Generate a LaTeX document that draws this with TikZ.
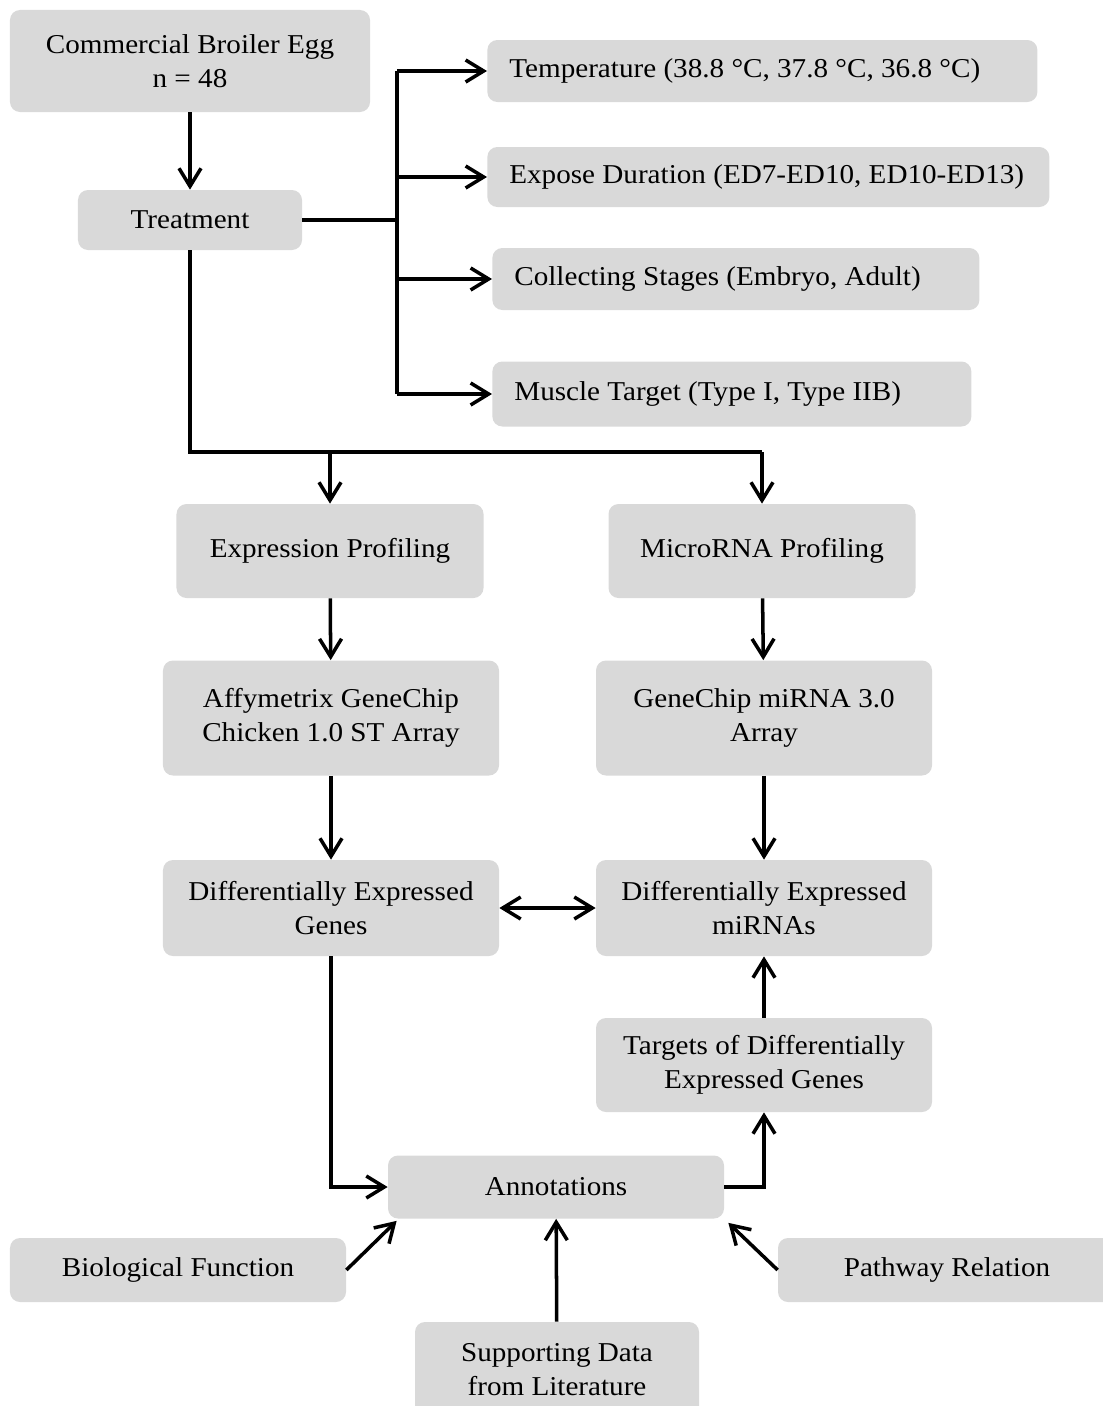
\documentclass[tikz,border=0pt]{standalone}
\usepackage{fontspec}
\setmainfont{Liberation Serif}[FakeStretch=1.07]
\usetikzlibrary{arrows.meta}
\definecolor{boxgray}{HTML}{D9D9D9}
\newcommand{\lefttext}[2]{\makebox[#1][l]{#2}}

\begin{document}
\begin{tikzpicture}[x=0.2mm, y=-0.2mm,
	box/.style = {fill=boxgray, rounded corners=2mm, inner sep=0pt, align=center,
		font=\fontsize{15.5}{19.4}\selectfont},
	sidebox/.style = {box, anchor=west, inner xsep=4.4mm, minimum height=12.4mm},
	link/.style = {line width=2pt},
	tip/.tip = {Straight Barb[length=3.6mm, width=4.4mm]},
	arr/.style = {link, -tip},
	]
	\useasboundingbox (0,0) rectangle (1103,1406);

	% left column
	\node[box, minimum width=72mm, minimum height=20.4mm] (egg) at (190,61) {Commercial Broiler Egg\\n = 48};
	\node[box, minimum width=44.8mm, minimum height=12mm] (treat) at (190,220) {Treatment};

	% treatment factors
	\node[sidebox] (temp) at (487,71) {\lefttext{101.2mm}{Temperature (38.8 °C, 37.8 °C, 36.8 °C)}};
	\node[sidebox, minimum height=12mm] (expose) at (487,177) {\lefttext{103.6mm}{Expose Duration (ED7-ED10, ED10-ED13)}};
	\node[sidebox] (collect) at (492,279) {\lefttext{88.6mm}{Collecting Stages (Embryo, Adult)}};
	\node[sidebox, minimum height=13mm] (muscle) at (492,394) {\lefttext{87mm}{Muscle Target (Type I, Type IIB)}};

	% profiling
	\node[box, minimum width=61.4mm, minimum height=18.8mm] (exprof) at (330,551) {Expression Profiling};
	\node[box, minimum width=61.4mm, minimum height=18.8mm] (mirprof) at (762,551) {MicroRNA Profiling};
	\node[box, minimum width=67.2mm, minimum height=23mm] (affy) at (331,718) {Affymetrix GeneChip\\Chicken 1.0 ST Array};
	\node[box, minimum width=67.2mm, minimum height=23mm] (gcmir) at (764,718) {GeneChip miRNA 3.0\\Array};
	\node[box, minimum width=67.2mm, minimum height=19.2mm] (deg) at (331,908) {Differentially Expressed\\Genes};
	\node[box, minimum width=67.2mm, minimum height=19.2mm] (demir) at (764,908) {Differentially Expressed\\miRNAs};
	\node[box, minimum width=67.2mm, minimum height=18.8mm] (targets) at (764,1065) {Targets of Differentially\\Expressed Genes};

	% annotations
	\node[box, minimum width=67.2mm, minimum height=12.6mm] (annot) at (556,1187) {Annotations};
	\node[box, minimum width=67.2mm, minimum height=12.8mm] (biofun) at (178,1270) {Biological Function};
	\node[box, minimum width=67.6mm, minimum height=12.8mm] (pathway) at (947,1270) {Pathway Relation};
	\node[box, minimum width=56.8mm, minimum height=19.2mm] (support) at (557,1370) {Supporting Data\\from Literature};

	\coordinate (split) at (397,220);
	\coordinate (fork) at (190,452);

	\draw[arr] (egg) -- (treat);
	\draw[link] (treat.east) -- (split);
	\draw[link] (split |- temp.west) -- (split |- muscle.west);
	\foreach \n in {temp,expose,collect,muscle}
		\draw[arr] (split |- \n.west) -- (\n.west);

	\draw[link] (treat.south) -- (fork) -- (fork -| mirprof);
	\draw[arr] (fork -| exprof) -- (exprof);
	\draw[arr] (fork -| mirprof) -- (mirprof);

	\draw[arr] (exprof) -- (affy);
	\draw[arr] (mirprof) -- (gcmir);
	\draw[arr] (affy) -- (deg);
	\draw[arr] (gcmir) -- (demir);
	\draw[link, tip-tip] (deg) -- (demir);
	\draw[arr] (targets) -- (demir);

	\draw[arr] (deg.south) |- (annot.west);
	\draw[arr] (annot.east) -| (targets.south);
	\draw[arr] (biofun.east) -- ([xshift=1.8mm, yshift=-0.4mm]annot.south west);
	\draw[arr] (pathway.west) -- ([xshift=0.8mm, yshift=-0.8mm]annot.south east);
	\draw[arr] (support) -- (annot);
\end{tikzpicture}
\end{document}
